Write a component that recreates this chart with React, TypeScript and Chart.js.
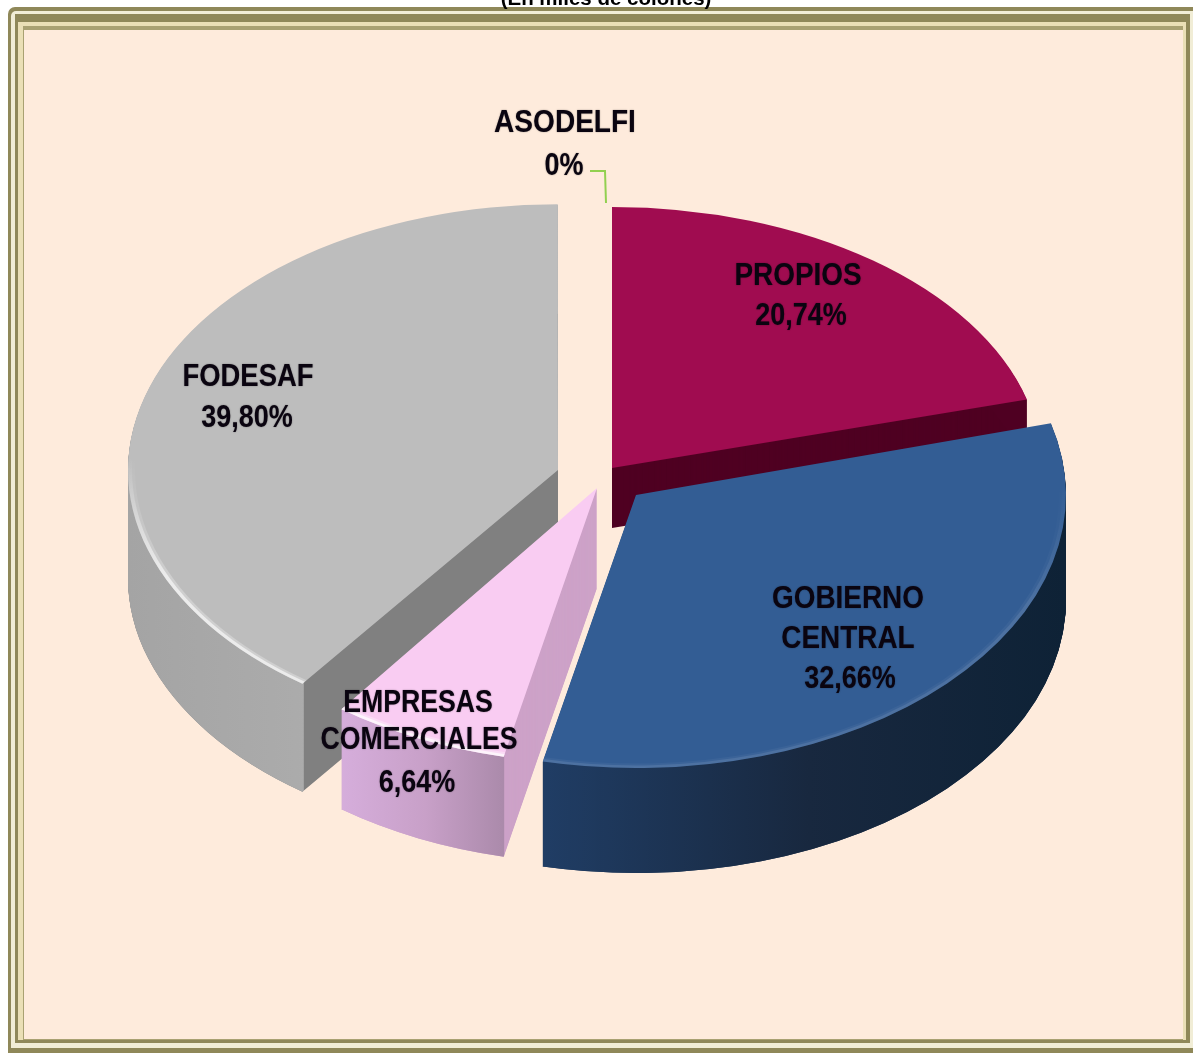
import React, { useEffect, useRef } from "react";
import { Chart, registerables } from "chart.js";

Chart.register(...registerables);

const categories = ["PROPIOS", "GOBIERNO CENTRAL", "EMPRESAS COMERCIALES", "FODESAF", "ASODELFI"];
const shares = [20.74, 32.66, 6.64, 39.8, 0.01];
const shareLabels = ["20,74%", "32,66%", "6,64%", "39,80%", "0%"];
const subtitle = "(En miles de colones)";

const FONT = '"Liberation Sans", Arial, sans-serif';
const BG = "#FEEBDC";
const OLIVE = "#8F8859";
const RADIUS = 430;

const topColors = ["#A00C50", "#335D94", "#F9CCF2", "#BDBDBD", "rgba(0,0,0,0)"];
const faceColors = ["#4F0022", "#1B3352", "#CDA2C8", "#808080", ""];
const wallStops = [
  ["#4F0022", "#4F0022", "#4F0022"],
  ["#21406A", "#18283F", "#0E2236"],
  ["#D6AEDC", "#C8A0C8", "#A888A8"],
  ["#A4A4A4", "#B6B6B6", "#959595"],
  ["", "", ""],
];
const rimAlpha = [0, 0.09, 0.7, 0.6, 0];

// Placement of each exploded, tilted slice on the page.
const tipX = [612, 636, 597, 558, 585];
const tipY = [468, 495, 488, 470, 470];
const tiltY = [0.607, 0.635, 0.64, 0.618, 0.62];
const depth = [60, 105, 100, 108, 0];
const paintOrder = [0, 3, 2, 1];

const labelLines = [
  { text: "PROPIOS", x: 798, y: 275, sx: 0.9 },
  { text: shareLabels[0], x: 801, y: 315, sx: 0.87 },
  { text: "GOBIERNO", x: 848, y: 598, sx: 0.9 },
  { text: "CENTRAL", x: 848, y: 638, sx: 0.9 },
  { text: shareLabels[1], x: 850, y: 678, sx: 0.87 },
  { text: "EMPRESAS", x: 418, y: 702, sx: 0.86 },
  { text: "COMERCIALES", x: 419, y: 739, sx: 0.86 },
  { text: shareLabels[2], x: 417, y: 782, sx: 0.87 },
  { text: "FODESAF", x: 248, y: 376, sx: 0.885 },
  { text: shareLabels[3], x: 247, y: 417, sx: 0.87 },
  { text: "ASODELFI", x: 565, y: 122, sx: 0.905 },
  { text: shareLabels[4], x: 564, y: 165, sx: 0.87 },
];

const frameLayers = [
  { l: 8, t: 7, r: 1193, b: 1053, c: OLIVE, round: 7 },
  { l: 11, t: 11, r: 1193, b: 1048, c: "#F1EDD6", round: 5 },
  { l: 15, t: 14, r: 1190, b: 1043, c: OLIVE, round: 0 },
  { l: 18, t: 22, r: 1186, b: 1040, c: "#EADFB6", round: 0 },
  { l: 23, t: 26, r: 1183, b: 1040, c: "#A9A172", round: 0 },
  { l: 24, t: 30, r: 1183, b: 1039, c: BG, round: 0 },
];

function paintArc(ctx: any, arc: any, i: number, dy: number, fill: any, inner?: number) {
  const savedOptions = arc.options;
  const savedInner = arc.innerRadius;
  arc.options = Object.assign(Object.create(savedOptions), { backgroundColor: fill, borderWidth: 0 });
  if (inner !== undefined) arc.innerRadius = inner;
  ctx.save();
  ctx.translate(tipX[i], tipY[i] + dy);
  ctx.scale(1, tiltY[i]);
  ctx.translate(-arc.x, -arc.y);
  arc.draw(ctx);
  ctx.restore();
  arc.options = savedOptions;
  arc.innerRadius = savedInner;
}

const pie3d = {
  id: "pie3d",
  beforeDatasetsDraw(chart: any) {
    const ctx = chart.ctx;
    const arcs = chart.getDatasetMeta(0).data;
    for (const i of paintOrder) {
      const arc = arcs[i];
      for (let d = depth[i]; d > 0; d--) paintArc(ctx, arc, i, d, faceColors[i]);
      const wall = ctx.createLinearGradient(arc.x - RADIUS, 0, arc.x + RADIUS, 0);
      if (i === 2) {
        wall.addColorStop(0.2, wallStops[i][0]);
        wall.addColorStop(0.3, wallStops[i][1]);
        wall.addColorStop(0.4, wallStops[i][2]);
      } else if (i === 1) {
        wall.addColorStop(0.35, wallStops[i][0]);
        wall.addColorStop(0.7, wallStops[i][1]);
        wall.addColorStop(1, wallStops[i][2]);
      } else {
        wall.addColorStop(0, wallStops[i][0]);
        wall.addColorStop(0.5, wallStops[i][1]);
        wall.addColorStop(1, wallStops[i][2]);
      }
      for (let d = depth[i]; d > 0; d--) paintArc(ctx, arc, i, d, wall, RADIUS - 3);
      paintArc(ctx, arc, i, 0, topColors[i]);
      if (rimAlpha[i] > 0) {
        const rim = ctx.createLinearGradient(0, arc.y - 20, 0, arc.y + RADIUS * 0.4);
        rim.addColorStop(0, "rgba(255,255,255,0)");
        rim.addColorStop(1, `rgba(255,255,255,${rimAlpha[i]})`);
        const soft = ctx.createLinearGradient(0, arc.y - 20, 0, arc.y + RADIUS * 0.4);
        soft.addColorStop(0, "rgba(255,255,255,0)");
        soft.addColorStop(1, `rgba(255,255,255,${rimAlpha[i] * 0.45})`);
        paintArc(ctx, arc, i, 0, soft, RADIUS - 7);
        paintArc(ctx, arc, i, 0, rim, RADIUS - 4);
      }
    }
    return false;
  },
  afterDraw(chart: any) {
    const ctx = chart.ctx;
    ctx.save();
    ctx.strokeStyle = "#92D050";
    ctx.lineWidth = 2;
    ctx.beginPath();
    ctx.moveTo(590, 171);
    ctx.lineTo(605, 171);
    ctx.lineTo(606, 203);
    ctx.stroke();

    ctx.fillStyle = "#000";
    ctx.textAlign = "center";
    ctx.textBaseline = "alphabetic";
    ctx.font = `bold 20.5px ${FONT}`;
    ctx.fillText(subtitle, 606, 5);

    ctx.font = `bold 31px ${FONT}`;
    ctx.textBaseline = "middle";
    ctx.fillStyle = "#0A0410";
    ctx.shadowColor = "rgba(0,0,0,0.45)";
    ctx.shadowBlur = 1.5;
    for (const line of labelLines) {
      ctx.save();
      ctx.translate(line.x, line.y);
      ctx.scale(line.sx, 1);
      ctx.fillText(line.text, 0, 1);
      ctx.restore();
    }
    ctx.restore();
  },
};

export default function App() {
  const canvasRef = useRef<HTMLCanvasElement | null>(null);

  useEffect(() => {
    const chart = new Chart(canvasRef.current as HTMLCanvasElement, {
      type: "pie",
      data: {
        labels: categories,
        datasets: [{ data: shares, backgroundColor: topColors, borderWidth: 0 }],
      },
      options: {
        responsive: false,
        animation: false,
        radius: RADIUS,
        layout: { padding: 0 },
        plugins: { legend: { display: false }, tooltip: { enabled: false } },
      },
      plugins: [pie3d],
    } as any);
    return () => chart.destroy();
  }, []);

  return (
    <div style={{ position: "fixed", left: 0, top: 0, width: 1193, height: 1053, background: "#fff", overflow: "hidden" }}>
      {frameLayers.map((f, i) => (
        <div
          key={i}
          style={{
            position: "absolute",
            left: f.l,
            top: f.t,
            width: f.r - f.l,
            height: f.b - f.t,
            background: f.c,
            borderTopLeftRadius: f.round,
          }}
        />
      ))}
      <canvas ref={canvasRef} width={1193} height={1053} style={{ position: "absolute", left: 0, top: 0, display: "block" }} />
    </div>
  );
}
